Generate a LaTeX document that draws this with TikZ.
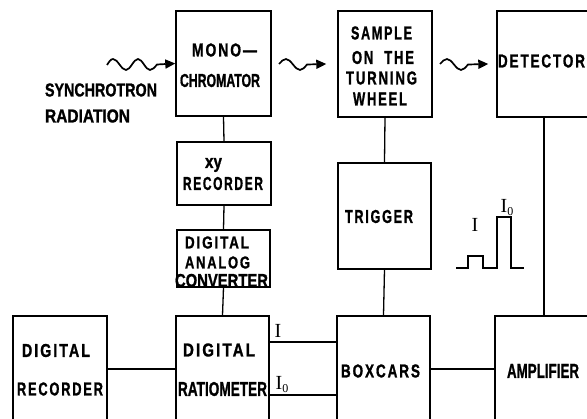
\documentclass[tikz,border=0pt]{standalone}
\usepackage{fontspec}
\usepackage{graphicx}
\usetikzlibrary{arrows.meta}
\newfontfamily\lblfont{Liberation Sans Bold}[FakeBold=1.3]
\newfontfamily\serfont{Liberation Serif}
\newcommand\fitt[3][13]{\resizebox{#2pt}{#1pt}{\lblfont #3}}
\newcommand\fits[3][13]{\resizebox{#2pt}{#1pt}{\lblfont\addfontfeature{LetterSpace=14}#3}}
\newcommand\Ilab{{\serfont\fontsize{20}{20}\selectfont I}}
\newcommand\Izlab{{\serfont\fontsize{20}{20}\selectfont I\raisebox{-3pt}{\fontsize{12}{12}\selectfont 0}}}
\tikzset{
  blk/.style={draw, line width=1.4pt, inner sep=0pt},
  lab/.style={inner sep=0pt, anchor=center},
  conn/.style={line width=1.3pt},
  wave/.style={line width=1.7pt, -{Triangle[length=10pt,width=9pt]}},
}
\begin{document}
\begin{tikzpicture}[x=1pt,y=-1pt]
\useasboundingbox[fill=white] (0,0) rectangle (587,419);
% boxes
\node[blk, minimum width=95pt, minimum height=105pt] (mono) at (223.5,63.5) {};
\node[blk, minimum width=94pt, minimum height=106pt] (sample) at (385,64) {};
\node[blk, minimum width=110pt, minimum height=106pt] (det) at (552,64) {};
\node[blk, minimum width=94pt, minimum height=63pt] (xy) at (224,173.5) {};
\node[blk, minimum width=93pt, minimum height=57pt] (dac) at (223.5,258.5) {};
\node[blk, minimum width=93pt, minimum height=106pt] (trig) at (384.5,216) {};
\node[blk, minimum width=94pt, minimum height=120pt] (drec) at (60,376) {};
\node[blk, minimum width=93pt, minimum height=120pt] (rat) at (222.5,376) {};
\node[blk, minimum width=93pt, minimum height=120pt] (boxc) at (383.5,376) {};
\node[blk, minimum width=110pt, minimum height=120pt] (amp) at (550,376) {};
% texts
\node[lab] (t1) at (101,90) {\fitt{112}{SYNCHROTRON}};
\node[lab] (t2) at (87.5,116) {\fitt{85}{RADIATION}};
\node[lab] (t3) at (224.5,50) {\fits{65}{MONO—}};
\node[lab] (t4) at (220,80.5) {\fitt{80}{CHROMATOR}};
\node[lab] (t5) at (381.5,33) {\fits{61}{SAMPLE}};
\node[lab] (t6) at (383,57.5) {\fits{62}{ON\ \ THE}};
\node[lab] (t7) at (381.5,78) {\fits{71}{TURNING}};
\node[lab] (t8) at (380,99) {\fits{54}{WHEEL}};
\node[lab] (t9) at (541.5,61) {\fits{87}{DETECTOR}};
\node[inner sep=0pt, anchor=base] (t10) at (213.5,168) {\resizebox{17pt}{10pt}{\lblfont xy}};
\node[lab] (t11) at (223,183.5) {\fits{80}{RECORDER}};
\node[lab] (t12) at (217,242.5) {\fits[12]{64}{DIGITAL}};
\node[lab] (t13) at (217.5,262.5) {\fits[12]{65}{ANALOG}};
\node[lab] (t14) at (221.5,280.5) {\fitt{93}{CONVERTER}};
\node[lab] (t15) at (379,216.5) {\fits{68}{TRIGGER}};
\node[lab] (t16) at (56,350.5) {\fits{68}{DIGITAL}};
\node[lab] (t17) at (60,389) {\fits{86}{RECORDER}};
\node[lab] (t18) at (219,350) {\fits{72}{DIGITAL}};
\node[lab] (t19) at (222.5,389) {\fitt[14]{89}{RATIOMETER}};
\node[lab] (t20) at (380.5,371) {\fits{79}{BOXCARS}};
\node[lab] (t21) at (543,371) {\fitt[14]{72}{AMPLIFIER}};
% I labels
\node[inner sep=0pt, anchor=base west] (i1) at (274.5,338) {\Ilab};
\node[inner sep=0pt, anchor=base west] (i2) at (275.5,390) {\Izlab};
\node[inner sep=0pt, anchor=base west] (i3) at (471.5,232) {\Ilab};
\node[inner sep=0pt, anchor=base west] (i4) at (500.5,213) {\Izlab};
% pulse
\draw[line width=1.2pt] (456,268) -- (468,268) -- (468,256) -- (483,256) -- (483,268)
  -- (497,268) -- (497,217) -- (511,217) -- (511,268) -- (524,268);
% wavy arrows
\coordinate (w1) at (107,65);
\coordinate (w2) at (279,64);
\coordinate (w3) at (440,64);
\draw[wave] (w1) sin (113,59) cos (119.5,64.5) sin (126,70) cos (132,64.5) sin (138,59)
  cos (144,64.5) sin (150,70) cos (157,64.5) -- (mono.west);
\draw[wave] (w2) sin (286,59) cos (293,64.5) sin (300,70) cos (307,64.5) -- ([xshift=-11pt]sample.west);
\draw[wave] (w3) sin (447,59) cos (454,64.5) sin (461,70) cos (468,64.5) -- ([xshift=-8pt]det.west);
% connectors
\coordinate (h1) at (0,369);
\coordinate (hI) at (0,342);
\coordinate (hI0) at (0,395);
\coordinate (dcx) at (544,0);
\draw[conn] (mono.south) -- (xy.north);
\draw[conn] (xy.south) -- (dac.north);
\draw[conn] (dac.south) -- (rat.north);
\draw[conn] (sample.south) -- (trig.north);
\draw[conn] (trig.south) -- (boxc.north);
\draw[conn] (det.south -| dcx) -- (amp.north -| dcx);
\draw[conn] (drec.east |- h1) -- (rat.west |- h1);
\draw[conn] (rat.east |- hI) -- (boxc.west |- hI);
\draw[conn] (rat.east |- hI0) -- (boxc.west |- hI0);
\draw[conn] (boxc.east |- h1) -- (amp.west |- h1);
\end{tikzpicture}
\end{document}
